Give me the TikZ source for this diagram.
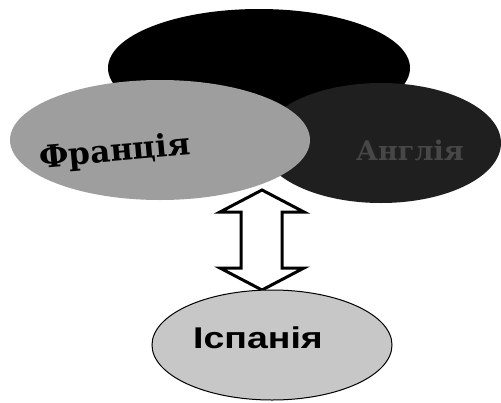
\documentclass[tikz,border=0pt]{standalone}
\usepackage{fontspec}
\usetikzlibrary{shapes.geometric}
\setmainfont{Liberation Serif}
\newfontfamily\headsans{Liberation Sans}
\newfontfamily\headserif{DejaVu Serif}
\begin{document}
\begin{tikzpicture}[x=1pt,y=-1pt,
  blob/.style={ellipse, inner sep=0pt, draw=none},
  shade1/.style={fill=black},
  shade2/.style={fill=black!88},
  shade3/.style={fill=black!38},
  shade4/.style={fill=black!22, draw=black, line width=1pt}]
\useasboundingbox (0,0) rectangle (501,402);
% top black ellipse
\node[blob, shade1, minimum width=302pt, minimum height=118pt] (top) at (259,68) {};
% right ellipse
\node[blob, shade2, minimum width=240pt, minimum height=120pt] (right) at (381,143) {};
\node[text=black!72, font=\headserif\bfseries\fontsize{27}{27}\selectfont] (rlabel) at (410,150) {Англія};
% France
\node[blob, shade3, minimum width=300pt, minimum height=120pt] (france) at (160,140) {};
\node[text=black, rotate=5, font=\headserif\bfseries\fontsize{31}{31}\selectfont] (flabel) at (115,153) {Франція};
% double arrow
\coordinate (atop) at (262,190);
\coordinate (abot) at (262,290);
\draw[line width=3pt, fill=white, line join=miter]
  (atop) -- (304,212) -- (282,212) -- (282,268) -- (304,268) -- (abot)
  -- (220,268) -- (241,268) -- (241,212) -- (220,212) -- cycle;
% Spain
\node[blob, shade4, minimum width=240pt, minimum height=110pt] (spain) at (272,345) {};
\node[xscale=1.25, font=\headsans\bfseries\fontsize{30}{30}\selectfont] (slabel) at (258,338) {Іспанія};
\end{tikzpicture}
\end{document}
